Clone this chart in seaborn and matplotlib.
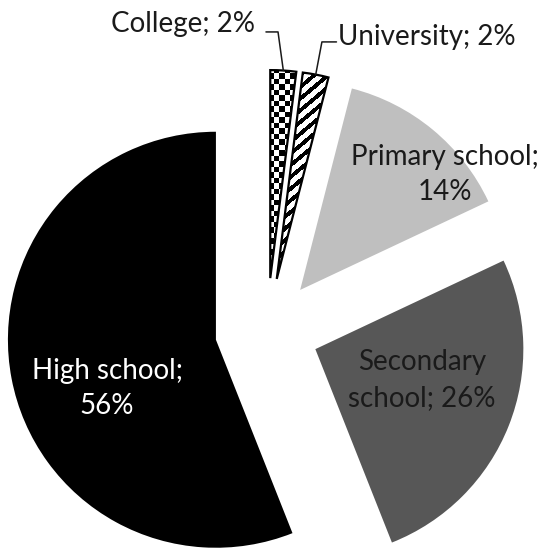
import numpy as np
import matplotlib
matplotlib.use("Agg")
import matplotlib.pyplot as plt
import seaborn as sns

# education level shares (%), drawn counter-clockwise from 12 o'clock
categories = ["High school", "Secondary school", "Primary school", "University", "College"]
shares = [56, 26, 14, 2, 2]
label_texts = ["High school;\n56%", "Secondary\nschool; 26%", "Primary school;\n14%",
               "University; 2%", "College; 2%"]

colors = ["#000000", "#575757", "#bfbfbf", "#ffffff", "#ffffff"]
text_colors = ["#ffffff", "#1a1a1a", "#1a1a1a", "#1a1a1a", "#1a1a1a"]

# label anchors in axes data units (pie radius = 1)
inside_pos = {
    "High school": (-0.769, -0.281),
    "Secondary school": (0.745, -0.240),
    "Primary school": (0.856, 0.748),
}

PX = 1 / 208  # one pixel in data units


def texture(ax, wedge, kind):
    # pattern image clipped to a wedge (checkerboard / diagonal stripes)
    x0, x1, y0, y1 = -0.1, 0.35, 0.15, 1.35
    nx = int((x1 - x0) / PX)
    ny = int((y1 - y0) / PX)
    yy, xx = np.indices((ny, nx)).astype(float)
    if kind == "checker":
        cell = 5.5
        img = ((xx // cell + yy // cell) % 2).astype(float)
    else:
        period = 11.7
        img = (((yy - xx * np.tan(np.deg2rad(40))) % period) >= 5.2).astype(float)
    im = ax.imshow(img, cmap="gray", vmin=0, vmax=1,
                   extent=(x0, x0 + nx * PX, y0, y0 + ny * PX),
                   origin="lower", interpolation="nearest", zorder=2)
    im.set_clip_path(wedge)
    wedge.set_facecolor("none")
    wedge.set_edgecolor("black")
    wedge.set_linewidth(1.6)
    wedge.set_zorder(3)


def main():
    sns.set_theme(style="white")
    plt.rcParams["font.family"] = ["Lato", "DejaVu Sans"]

    fig = plt.figure(figsize=(5.44, 5.51), dpi=100)
    ax = fig.add_axes([0, 0, 1, 1])

    wedges, _ = ax.pie(
        shares,
        colors=colors,
        startangle=90,
        counterclock=True,
        explode=[0.25] * len(shares),
        radius=1,
        wedgeprops=dict(linewidth=0),
    )

    uni = wedges[categories.index("University")]
    col = wedges[categories.index("College")]
    texture(ax, uni, "stripes")
    texture(ax, col, "checker")

    fs = 20
    for name, txt, tc in zip(categories, label_texts, text_colors):
        if name in inside_pos:
            x, y = inside_pos[name]
            ax.text(x, y, txt, ha="center", va="center", color=tc, fontsize=fs,
                    linespacing=1.45)

    # outside labels with elbow leader lines
    def tip(w):
        mid = np.deg2rad((w.theta1 + w.theta2) / 2)
        return w.center[0] + w.r * np.cos(mid), w.center[1] + w.r * np.sin(mid)

    cx, cy = tip(col)
    ax.text(-0.058, 1.433, label_texts[4], ha="right", va="baseline",
            color="#1a1a1a", fontsize=fs)
    ax.plot([-0.005, 0.053, cx], [1.433, 1.433, cy], color="#1a1a1a", lw=1.1, zorder=4)

    ux, uy = tip(uni)
    ax.text(0.341, 1.370, label_texts[3], ha="left", va="baseline",
            color="#1a1a1a", fontsize=fs)
    ax.plot([0.334, 0.264, ux], [1.385, 1.385, uy], color="#1a1a1a", lw=1.1, zorder=4)

    ax.set_aspect("auto")
    ax.set_xlim(-267 / 208, (544 - 267) / 208)
    ax.set_ylim(-(551 - 330) / 208, 330 / 208)
    ax.axis("off")

    fig.savefig("out.png", dpi=100, facecolor="white")
    plt.close(fig)


if __name__ == "__main__":
    main()
